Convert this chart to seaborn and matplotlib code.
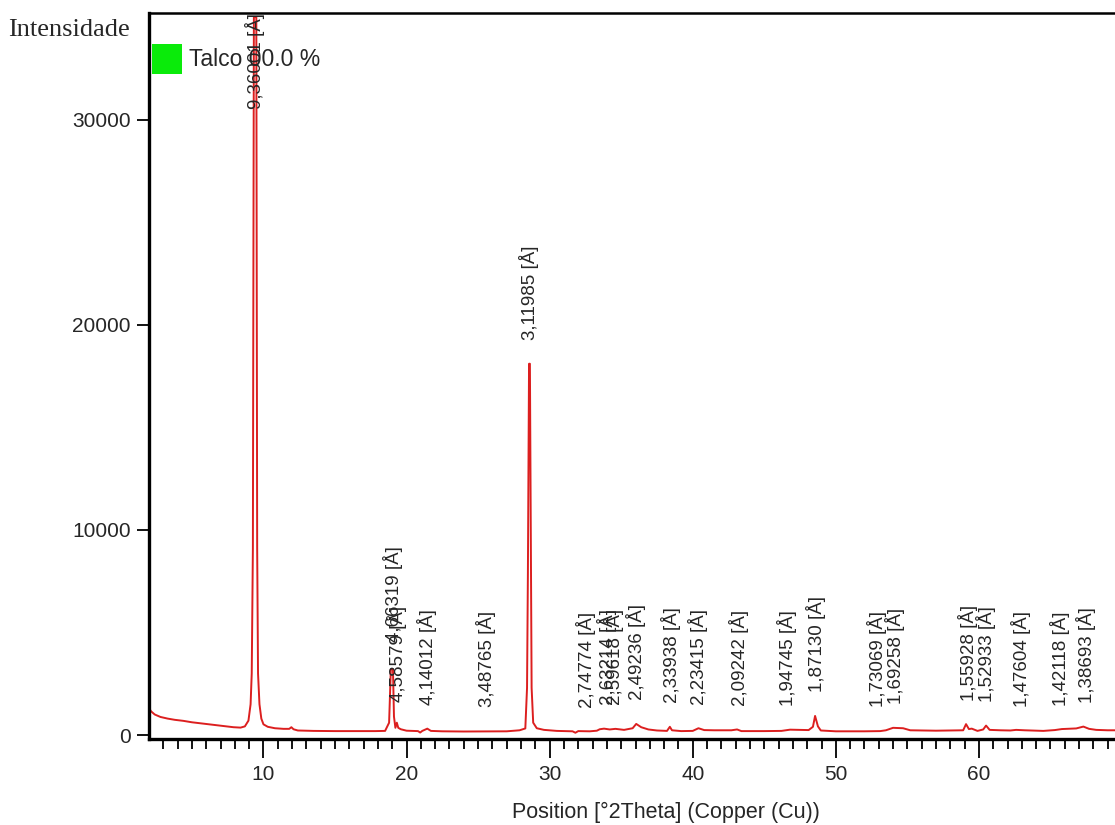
import pandas as pd
import matplotlib.pyplot as plt
import seaborn as sns
from matplotlib.patches import Rectangle

# diffractogram profile
two_theta = [2.00, 2.15, 2.40, 2.80, 3.30, 3.80, 4.40, 5.00, 5.60, 6.20, 6.80, 7.40, 7.90, 8.40,
             8.70, 8.95, 9.10, 9.18, 9.26, 9.33, 9.50, 9.56, 9.62, 9.72, 9.85, 10.00, 10.30,
             10.80, 11.40, 11.80, 11.95, 12.10, 12.40, 13.50, 15.00, 16.50, 17.80, 18.50, 18.78,
             18.90, 19.05, 19.12, 19.22, 19.32, 19.42, 19.60, 20.00, 20.80, 20.95, 21.10, 21.45,
             21.70, 22.50, 24.00, 25.50, 27.00, 27.90, 28.30, 28.42, 28.48, 28.52, 28.56, 28.62,
             28.66, 28.70, 28.74, 28.85, 29.10, 29.60, 30.50, 31.60, 31.80, 32.00, 32.80, 33.30,
             33.50, 33.80, 34.20, 34.60, 35.20, 35.80, 36.05, 36.40, 36.90, 37.50, 38.20, 38.40,
             38.55, 39.20, 40.00, 40.40, 40.80, 41.50, 42.70, 43.10, 43.40, 45.00, 46.20, 46.80,
             47.50, 48.10, 48.40, 48.55, 48.75, 48.95, 50.00, 52.00, 53.10, 53.50, 54.00, 54.70,
             55.20, 57.00, 58.90, 59.10, 59.30, 59.50, 59.90, 60.30, 60.50, 60.75, 61.50, 62.20,
             62.60, 63.20, 64.00, 64.50, 65.30, 65.80, 66.80, 67.30, 67.70, 68.20, 69.00, 70.00]
intensity = [1300, 1150, 1000, 880, 800, 740, 690, 620, 570, 520, 470, 420, 380, 360,
             420, 700, 1500, 3000, 9100, 35000, 35000, 9100, 3000, 1500, 800, 520, 400,
             330, 300, 300, 380, 280, 220, 200, 190, 190, 190, 200, 600,
             3200, 3200, 900, 350, 600, 350, 280, 210, 190, 120, 200, 310,
             200, 180, 170, 175, 180, 230, 320, 2300, 7900, 12700, 18100, 18100,
             12700, 7900, 2300, 600, 330, 250, 200, 180, 110, 190, 180, 210,
             280, 310, 270, 300, 250, 330, 540, 380, 270, 220, 200, 400,
             230, 190, 200, 330, 240, 230, 230, 270, 190, 190, 200, 260,
             250, 240, 400, 930, 420, 220, 180, 180, 190, 230, 350, 330,
             230, 210, 230, 530, 290, 310, 200, 270, 460, 250, 230, 220,
             250, 230, 210, 200, 240, 290, 320, 410, 300, 250, 230, 230]

# peak labels (d-spacing) and the intensity where each peak tops out
peak_pos = [9.44, 19.02, 19.34, 21.44, 25.52, 28.59, 32.56, 34.03, 34.52, 36.01, 38.45,
            40.34, 43.21, 46.60, 48.61, 52.86, 54.14, 59.21, 60.49, 62.92, 65.64, 67.48]
peak_height = [35000, 3400, 450, 300, 200, 18100, 180, 300, 300, 540, 400,
               330, 270, 250, 930, 200, 350, 530, 460, 230, 250, 410]
peak_labels = ['9,36001', '4,66319', '4,58579', '4,14012', '3,48765', '3,11985', '2,74774',
               '2,63214', '2,59618', '2,49236', '2,33938', '2,23415', '2,09242', '1,94745',
               '1,87130', '1,73069', '1,69258', '1,55928', '1,52933', '1,47604', '1,42118',
               '1,38693']

x_ticks = [10, 20, 30, 40, 50, 60]
y_ticks = [0, 10000, 20000, 30000]
phase_label = 'Talco 00.0 %'

df = pd.DataFrame({'2theta': two_theta, 'I': intensity})

sns.set_style('ticks')
plt.rcParams['font.family'] = ['Liberation Sans', 'DejaVu Sans']

fig = plt.figure(figsize=(11.15, 8.25), dpi=100)
ax = fig.add_axes([149 / 1115, 86 / 825, 973 / 1115, 726 / 825])

sns.lineplot(data=df, x='2theta', y='I', color='#dc1f1f', linewidth=1.4,
             estimator=None, sort=False, ax=ax)

ymax = 35200
ax.set_xlim(2, 70)
ax.set_ylim(-195, ymax)

for x, h, lab in zip(peak_pos, peak_height, peak_labels):
    txt = lab + ' [Å]'
    if h > ymax * 0.9:
        ax.text(x, ymax, txt, rotation=90, ha='center', va='top', fontsize=13.5)
    else:
        ax.annotate(txt, (x, h), xytext=(0, 17), textcoords='offset points',
                    rotation=90, ha='center', va='bottom', fontsize=13.5)

ax.set_xticks(x_ticks)
ax.set_xticks(range(3, 70), minor=True)
ax.set_yticks(y_ticks)
ax.tick_params(axis='x', which='major', direction='out', length=14, width=1.3,
               labelsize=15, pad=5, color='black', bottom=True)
ax.tick_params(axis='x', which='minor', direction='out', length=7, width=1.3,
               color='black', bottom=True)
ax.tick_params(axis='y', which='major', direction='out', length=9, width=1.3,
               labelsize=15, pad=4, color='black')

ax.spines['right'].set_visible(False)
ax.spines['left'].set_linewidth(2.4)
ax.spines['bottom'].set_linewidth(2.4)
ax.spines['top'].set_linewidth(1.8)
for s in ax.spines.values():
    s.set_color('black')

ax.set_xlabel('')
ax.set_ylabel('')

fig.text(666 / 1115, 1 - 812 / 825, 'Position [°2Theta] (Copper (Cu))',
         ha='center', va='center', fontsize=15.5)
fig.text(8 / 1115, 1 - 30 / 825, 'Intensidade', ha='left', va='center',
         fontsize=19, family='Liberation Serif')

fig.patches.append(Rectangle((152 / 1115, 1 - 74 / 825), 30 / 1115, 30 / 825,
                             transform=fig.transFigure, facecolor='#0aeb0a',
                             edgecolor='none'))
fig.text(189 / 1115, 1 - 60 / 825, phase_label, ha='left', va='center', fontsize=16.5)

fig.savefig('out.png', dpi=100)
